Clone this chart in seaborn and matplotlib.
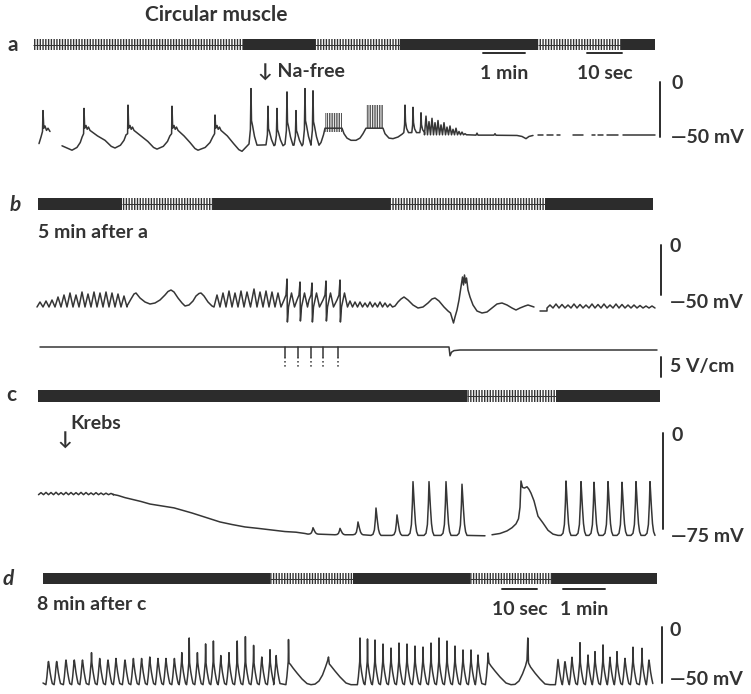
import numpy as np
import pandas as pd
import matplotlib
matplotlib.use("Agg")
import matplotlib.pyplot as plt
import seaborn as sns

sns.set_theme(style="white")
plt.rcParams["font.family"] = ["Lato", "DejaVu Sans"]
plt.rcParams["hatch.linewidth"] = 1.0

W, H = 751, 694
INK = "#2c2c2c"
TRACE = "#363636"
TXT = "#333333"

# =========================
# DATA  (t = position along the chart paper, v = potential in mV)
# =========================

# time-marker strips: stretch edges, True = fast paper speed (ticked marker)
a_mark_edges = [33, 243, 315, 400, 538, 621, 655]
a_mark_fast = [True, False, True, False, True, False]
b_mark_edges = [38, 122, 213, 390, 545, 653]
b_mark_fast = [False, True, False, True, False]
c_mark_edges = [38, 467, 556, 660]
c_mark_fast = [False, True, False]
d_mark_edges = [43, 270, 353, 470, 552, 657]
d_mark_fast = [False, True, False, True, False]

# time calibration bars
a_timebar_t0 = [483, 587]
a_timebar_t1 = [525, 622]
a_timebar_lbl = ["1 min", "10 sec"]
d_timebar_t0 = [502, 563]
d_timebar_t1 = [537, 605]
d_timebar_lbl = ["10 sec", "1 min"]

# --- a: slow waves, then Na-free
a_first_t = [39, 41, 42.5, 43, 43.8, 45, 46.5, 48, 50]
a_first_v = [-56, -50, -45, -26, -42, -40, -44, -42, -45]
a_trough_t = [72, 115, 157, 198, 242]
a_trough_v = [-62, -60, -61, -62, -63]
a_spike_t = [84, 128, 172, 215]
a_spike_v = [-24, -21, -22, -30]
a_na_t = [251, 268, 277, 287, 296, 305, 313]
a_na_v = [-6, -22, -24, -9, -26, -6, -8]
a_na_base = -59
a_mid_t = [321, 323.5, 325, 342, 344, 347, 351, 356, 360, 363, 366, 383, 385, 389, 393, 398, 402]
a_mid_v = [-55, -48, -42, -42, -47, -51, -53, -53, -51, -47, -42, -42, -47, -51, -51.5, -50, -47.5]
a_burst_t0 = [325, 366]
a_burst_t1 = [342, 383]
a_burst_lo = [-45, -42]
a_burst_hi = [-28, -21]
a_late_t = [405, 413, 421]
a_late_v = [-21, -23, -28]
a_osc_t = [426, 429, 432, 435, 438, 441, 444, 447, 450, 453, 456, 459, 462, 465]
a_osc_v = [-31, -36, -33, -37, -35, -39, -37, -41, -40, -43, -42, -45, -45.5, -47]
a_tail_t = [468, 476, 477, 478, 490, 494, 495, 496, 505, 517, 522, 526, 529, 533]
a_tail_v = [-48, -48.3, -46.5, -48.3, -48.3, -48.3, -47, -48.4, -48.5, -48.6, -49.5, -51.5, -49.5, -48.6]
a_dash_t0 = [538, 547, 557, 573, 592, 598, 607, 623]
a_dash_t1 = [543, 553, 560, 583, 595, 603, 618, 655]
a_dash_v = -48.5
a_scale = [0, -50]

# --- b: 5 min after a
b_osc1_t = [40, 46, 52, 58, 64, 70, 76, 82, 88, 94, 100, 106, 112, 118, 124]
b_osc1_v = [-57, -56, -55, -52, -50, -48, -50, -47, -49, -47, -48, -47, -48, -49, -51]
b_wave1_t = [127, 131, 134, 136, 140, 145, 150, 155, 160, 165, 168, 171, 174, 178, 182,
             185, 189, 193, 196, 199, 201, 204, 208, 212]
b_wave1_v = [-61, -54, -49, -48, -53, -57, -59, -58, -55, -50, -46.5, -45, -47, -53, -58,
             -61, -60, -56, -51, -48.5, -48, -51, -57, -61]
b_osc2_t = [217, 223, 229, 235, 241, 247, 254, 260, 266, 272, 278]
b_osc2_v = [-50, -48, -46, -48, -46, -47, -44, -47, -46, -47, -48]
b_stim_t = [287, 300, 312, 326, 340]
b_stim_hi = [-34, -37, -38, -36, -35]
b_stim_lo = [-77, -76, -77, -76, -77]
b_osc3_t = [350, 355, 360, 365, 370, 375, 380, 385, 390]
b_osc3_v = [-56, -57, -57, -58, -57, -58, -57, -58, -59]
b_wave2_t = [395, 398, 401, 404, 408, 413, 418, 423, 428, 432,
             435, 439, 444, 448, 450.5, 452, 453.5, 455, 457, 459,
             461, 462.5, 463.5, 464.5, 465.5, 466.5, 468, 470, 473, 477,
             482, 487, 492, 497, 502, 507, 512, 516, 520, 525,
             528, 531, 534]
b_wave2_v = [-61, -57, -54, -52, -55, -60, -63, -62, -58, -54,
             -53, -56, -62, -66, -68, -73, -78, -72, -65, -55,
             -42, -32, -40, -30, -38, -33, -45, -52, -60, -66,
             -68, -67, -63, -59, -58, -60, -63, -65, -63, -61,
             -60, -61, -62]
b_flat_t = [540, 547]
b_flat_v = [-66, -66]
b_osc4_t = [550, 556, 562, 568, 574, 580, 586, 592, 598, 604, 610, 616, 622, 628, 634, 640, 646, 652]
b_osc4_v = [-60, -59, -59.5, -60, -59, -59.5, -60, -59, -59.5, -59, -60, -59, -59.5, -60, -60,
            -60.5, -61, -61]
b_scale = [0, -50]
# stimulus trace (V)
b_pulse_t = [285, 298, 311, 323, 338]
b_pulse_depth = [-2.5, -5]
b_stimline_t = [40, 449, 450, 451.5, 454, 460, 657]
b_stimline_v = [0, 0, -2.2, -1.3, -0.9, -0.75, -0.75]
b_volt_scale = [-2.5, -7.5]

# --- c: back to Krebs
c_ripple_t = [41, 46, 51, 56, 61, 66, 71, 76, 81, 86, 91, 96, 101, 106, 111]
c_ripple_v = [-46.6, -46.4, -46.5, -46.3, -46.6, -46.4, -46.5, -46.6, -46.4, -46.5,
              -46.8, -46.6, -46.9, -47.0, -47.2]
c_decline_t = [113, 118, 125, 133, 141, 150, 158, 166, 174, 183, 192, 200, 210, 220, 232,
               245, 258, 272, 285, 296, 305]
c_decline_v = [-48, -48.8, -50.5, -52, -53.5, -55.5, -56.5, -57.5, -58.5, -60.5, -62.5, -64.5,
               -67, -69.5, -71.5, -73.4, -74.5, -75.8, -77, -77.5, -78.5]
c_spike_t = [313, 340, 358, 376, 397, 413, 429, 446, 462]
c_spike_v = [-74, -74.5, -69.5, -58.6, -64, -38, -38, -38, -40]
c_spike_base = [-79, -79.5, -79.5, -80, -80, -80, -80, -80, -80]
c_late_t = [492, 500, 507, 512, 516, 518.5, 520, 521, 522.5, 524.5, 527, 529, 531, 534, 538,
            543, 548, 553, 558]
c_late_v = [-79.5, -78.5, -76.5, -74, -71, -67, -58, -37.5, -42.5, -43, -42, -44, -47, -53, -65,
            -70.3, -76, -79, -80]
c_late_spike_t = [566, 581, 594, 608, 622, 636, 650]
c_late_spike_v = [-37.5, -38, -38.5, -38, -38.5, -38, -38]
c_scale = [0, -75]

# --- d: 8 min after c
d_seg1_t = [48.5, 56.7, 66, 74.3, 82.5, 91.5, 99.7, 108, 116, 125, 133.4, 141.6, 149.8, 158, 166,
            174.4, 181.8, 189.2, 197.4, 205.6, 213.4, 220.8, 229, 237.2, 245.4, 253.6, 261.8,
            270, 276.2, 288.5]
d_seg1_v = [-30.8, -30.8, -29.5, -29.5, -29.5, -22.9, -28.1, -29.5, -28.1, -29.5, -28.1, -28.1,
            -26.8, -28.1, -28.1, -28.1, -22.9, -9.8, -22.9, -15.1, -12.5, -25.5, -22.9, -12.5,
            -8.6, -16.4, -26.8, -20.3, -25.5, -11.2]
d_slow1_t = [289, 290.5, 293, 297, 302, 307, 311, 315, 319, 322.5, 325.5, 327.5, 328.5, 329.3,
             331, 335, 340, 346, 351, 355]
d_slow1_v = [-32.1, -33.5, -36.6, -41.1, -46.4, -50.5, -51.5, -51, -48.2, -42.9, -35.7, -30.4,
             -26.8, -33, -34.8, -39.3, -44.6, -50, -51.5, -51.5]
d_seg2_t = [360, 367.5, 375, 383, 391, 399, 407, 415, 423, 431, 439, 447, 455, 463, 471, 478, 488]
d_seg2_v = [-9.8, -10.7, -11.6, -15.2, -18.8, -14.3, -15.2, -17, -17.9, -14.3, -9.8, -12.5, -17,
            -20.5, -20.5, -25, -23.2]
d_slow2_t = [489, 491, 495, 500, 506, 511, 515, 519, 522.5, 525.5, 527, 527.8, 528.5, 530.5,
             535, 540, 545, 550, 553]
d_slow2_v = [-32.1, -34.8, -39.3, -44.6, -50, -51.5, -51.2, -48.2, -41.9, -34.8, -29.5, -9.8,
             -32.1, -35.7, -41.1, -46.4, -50.9, -51.5, -51.5]
d_seg3_t = [558, 565, 572, 580, 588, 595, 603, 610, 617, 625, 633, 642, 649]
d_seg3_v = [-29, -31, -27, -14, -25, -22, -16, -27, -22, -28, -18, -19, -29.5]
d_scale = [0, -50]


# =========================
# WAVEFORM SHAPES
# =========================
def spike(t, top, base, rise, fall):
    pts = [(t + dt, base + f * (top - base)) for dt, f in rise]
    pts.append((t, top))
    pts += [(t + dt, base + f * (top - base)) for dt, f in fall]
    return pts


def zigzag(ts, vs, base):
    pts = []
    for i, (t, v) in enumerate(zip(ts, vs)):
        half = (t - ts[i - 1]) / 2 if i > 0 else (ts[1] - ts[0]) / 2
        pts += [(t - half, base), (t, v)]
    pts.append((ts[-1] + (ts[-1] - ts[-2]) / 2, base))
    return pts


def d_cycle(t, top, base=-51.5, sh=-31, tail=True):
    s = sh if top > sh + 1 else top - 1
    pts = [(t - 2.6, base), (t - 1.6, base + 0.35 * (s - base)),
           (t - 0.8, base + 0.75 * (s - base)), (t - 0.3, s), (t, top)]
    if tail:
        pts += [(t + 0.4, s - 1), (t + 1.6, base + 0.55 * (s - base)),
                (t + 2.8, base + 0.25 * (s - base)), (t + 3.8, base + 0.05 * (s - base))]
    return pts


C_RISE = [(-5, 0.0), (-3, 0.04), (-1.6, 0.2), (-0.6, 0.6)]
C_FALL = [(0.6, 0.8), (1.5, 0.5), (2.5, 0.22), (3.6, 0.07), (5, 0.0)]
NA_RISE = [(-2, 0.05), (-0.6, 0.3)]
NA_FALL = [(0.5, 0.45), (1.5, 0.37), (3.5, 0.18), (6, 0.03)]
LATE_RISE = [(-1.2, 0.0), (-0.4, 0.3)]
LATE_FALL = [(0.5, 0.4), (1.6, 0.15), (3.5, 0.0)]


def to_frame(segments):
    rows = []
    for k, seg in enumerate(segments):
        for t, v in seg:
            rows.append((k, t, v))
    return pd.DataFrame(rows, columns=["seg", "t", "v"])


def draw_trace(ax, segments, lw=1.1, ls="-"):
    df = to_frame(segments)
    sns.lineplot(data=df, x="t", y="v", units="seg", estimator=None, sort=False,
                 color=TRACE, linewidth=lw, linestyle=ls, ax=ax, legend=False)
    ax.set_xlim(0, W)
    ax.axis("off")


# ---- assemble trace a
a_main = [(62, -58)]
for i in range(len(a_spike_t)):
    tr, vr = a_trough_t[i], a_trough_v[i]
    ts, top = a_spike_t[i], a_spike_v[i]
    nt, nv = a_trough_t[i + 1], a_trough_v[i + 1]
    d = ts - 1 - tr
    a_main += [(tr, vr), (tr + 0.45 * d, vr + 2.5), (tr + 0.75 * d, vr + 7), (tr + 0.92 * d, vr + 12),
               (ts - 0.4, -47), (ts, top), (ts + 0.7, -42), (ts + 2, -39.5), (ts + 3.2, -43),
               (ts + 4.5, -41), (ts + 6, -44)]
    e = nt - (ts + 6)
    a_main += [(ts + 6 + 0.3 * e, -49), (ts + 6 + 0.6 * e, nv + 7), (ts + 6 + 0.85 * e, nv + 1.5)]
a_main.append((a_trough_t[-1], a_trough_v[-1]))
for t, v in zip(a_na_t, a_na_v):
    a_main += spike(t, v, a_na_base, NA_RISE, NA_FALL)
a_main += list(zip(a_mid_t, a_mid_v))
for t, v in zip(a_late_t, a_late_v):
    a_main += spike(t, v, -46, LATE_RISE, LATE_FALL)
a_main += zigzag(a_osc_t, a_osc_v, -48)
a_main += list(zip(a_tail_t, a_tail_v))
a_segments = [list(zip(a_first_t, a_first_v)), a_main]
a_segments += [[(t0, a_dash_v), (t1, a_dash_v)] for t0, t1 in zip(a_dash_t0, a_dash_t1)]

# ---- assemble trace b
b_main = zigzag(b_osc1_t, b_osc1_v, -62)
b_main += list(zip(b_wave1_t, b_wave1_v))
b_main += zigzag(b_osc2_t, b_osc2_v, -62)
for t, hi, lo in zip(b_stim_t, b_stim_hi, b_stim_lo):
    b_main += [(t - 3, -55), (t - 1, -50), (t, hi), (t + 0.4, lo), (t + 1.5, -62),
               (t + 4.5, -48), (t + 7.5, -62)]
b_main += zigzag(b_osc3_t, b_osc3_v, -62)
b_main += list(zip(b_wave2_t, b_wave2_v))
b_end = list(zip(b_flat_t, b_flat_v)) + zigzag(b_osc4_t, b_osc4_v, -63)
b_segments = [b_main, b_end]

# ---- assemble trace c
c_main = zigzag(c_ripple_t, c_ripple_v, -48.2)
c_main += list(zip(c_decline_t, c_decline_v))
for t, v, base in zip(c_spike_t, c_spike_v, c_spike_base):
    c_main += spike(t, v, base, C_RISE, C_FALL)
c_main.append((485, -80.3))
c_end = list(zip(c_late_t, c_late_v))
for t, v in zip(c_late_spike_t, c_late_spike_v):
    c_end += spike(t, v, -80, C_RISE, C_FALL)
c_segments = [c_main, c_end]

# ---- assemble trace d
d_main = [(43, -50)]
for i, (t, v) in enumerate(zip(d_seg1_t, d_seg1_v)):
    d_main += d_cycle(t, v, tail=i < len(d_seg1_t) - 1)
d_main += list(zip(d_slow1_t, d_slow1_v))
for i, (t, v) in enumerate(zip(d_seg2_t, d_seg2_v)):
    d_main += d_cycle(t, v, tail=i < len(d_seg2_t) - 1)
d_main += list(zip(d_slow2_t, d_slow2_v))
for t, v in zip(d_seg3_t, d_seg3_v):
    d_main += d_cycle(t, v)
d_segments = [d_main]


# =========================
# FIGURE
# =========================
fig = plt.figure(figsize=(W / 100, H / 100), dpi=100)
fig.patch.set_facecolor("white")
FS = 14


def band_axes(top, bottom, ylo, yhi):
    ax = fig.add_axes([0, 1 - bottom / H, 1, (bottom - top) / H])
    ax.set_xlim(0, W)
    ax.set_ylim(ylo, yhi)
    ax.axis("off")
    ax.patch.set_alpha(0)
    return ax


def trace_axes(top, bottom, zero_px, px_per_unit):
    return band_axes(top, bottom, -(bottom - zero_px) / px_per_unit, (zero_px - top) / px_per_unit)


def draw_marker(top, bottom, edges, fast):
    ax = band_axes(top, bottom, 0, 1)
    for x0, x1, f in zip(edges[:-1], edges[1:], fast):
        if f:
            ax.barh(0.5, x1 - x0, left=x0, height=1.0, color="white", edgecolor="#333333",
                    hatch="||||||", linewidth=0)
            ax.hlines(0.5, x0, x1, color="#333333", lw=0.7)
        else:
            ax.barh(0.5, x1 - x0, left=x0, height=0.92, color=INK, linewidth=0)
    return ax


def time_bars(ax, t0s, t1s, labels, bar_v, lbl_v):
    for t0, t1, lbl in zip(t0s, t1s, labels):
        ax.plot([t0, t1], [bar_v, bar_v], color=INK, lw=1.4)
        ax.text((t0 + t1) / 2, lbl_v, lbl, ha="center", va="center", fontsize=FS,
                fontweight="bold", color=TXT)


def volt_scale(ax, x, vals, top_lbl, bot_lbl, top_v, bot_v, lx):
    ax.plot([x, x], vals, color=INK, lw=1.4)
    ax.text(lx, top_v, top_lbl, color=TXT, fontsize=FS, fontweight="bold", va="center", ha="left")
    ax.text(lx, bot_v, bot_lbl, color=TXT, fontsize=FS, fontweight="bold", va="center", ha="left")


# title + panel letters
fig.text(216 / W, 1 - 15 / H, "Circular muscle", ha="center", va="center", fontsize=15,
         fontweight="bold", color=TXT)
fig.text(13 / W, 1 - 45 / H, "a", ha="center", va="center", fontsize=15, fontweight="bold", color=TXT)
fig.text(15 / W, 1 - 205 / H, "b", ha="center", va="center", fontsize=15, fontweight="bold",
         fontstyle="italic", color=TXT)
fig.text(11 / W, 1 - 395 / H, "c", ha="center", va="center", fontsize=15, fontweight="bold", color=TXT)
fig.text(8 / W, 1 - 579 / H, "d", ha="center", va="center", fontsize=15, fontweight="bold",
         fontstyle="italic", color=TXT)

# ---- panel a
draw_marker(39, 50, a_mark_edges, a_mark_fast)
ax_a = trace_axes(50, 170, 82, 1.1)
draw_trace(ax_a, a_segments)
for t0, t1, lo, hi in zip(a_burst_t0, a_burst_t1, a_burst_lo, a_burst_hi):
    ax_a.fill_between([t0, t1], lo, hi, facecolor="none", edgecolor="#555555",
                      hatch="|||||||", linewidth=0)
ax_a.set_ylim(-80, 29.1)
time_bars(ax_a, a_timebar_t0, a_timebar_t1, a_timebar_lbl, 26.4, 7.3)
ax_a.text(258, 10, "\u2193 Na-free", ha="left", va="center", fontsize=FS, fontweight="bold",
          color=TXT)
volt_scale(ax_a, 660, a_scale, "0", "\u201450 mV", -1.5, -50, 671)

# ---- panel b
draw_marker(198, 210, b_mark_edges, b_mark_fast)
ax_b = trace_axes(215, 330, 245, 1.0)
draw_trace(ax_b, b_segments)
ax_b.set_ylim(-85, 30)
ax_b.text(38, 13, "5 min after a", ha="left", va="center", fontsize=FS, fontweight="bold", color=TXT)
volt_scale(ax_b, 661, b_scale, "0", "\u201450 mV", -1, -57, 670)

ax_s = trace_axes(335, 385, 347, 4.0)
stim_segments = [list(zip(b_stimline_t, b_stimline_v))]
stim_segments += [[(t, 0), (t, b_pulse_depth[0])] for t in b_pulse_t]
draw_trace(ax_s, stim_segments)
draw_trace(ax_s, [[(t, b_pulse_depth[0]), (t, b_pulse_depth[1])] for t in b_pulse_t], ls=":")
ax_s.set_ylim(-9.5, 3)
ax_s.plot([661, 661], b_volt_scale, color=INK, lw=1.4)
ax_s.text(670, -4.8, "5 V/cm", ha="left", va="center", fontsize=FS, fontweight="bold", color=TXT)

# ---- panel c
draw_marker(390, 402, c_mark_edges, c_mark_fast)
ax_c = trace_axes(405, 548, 433, 1.28)
draw_trace(ax_c, c_segments)
ax_c.set_ylim(-(548 - 433) / 1.28, (433 - 405) / 1.28)
ax_c.text(70, 7.8, "Krebs", ha="left", va="center", fontsize=FS, fontweight="bold", color=TXT)
ax_c.text(65, -5.5, "\u2193", ha="center", va="center", fontsize=FS, fontweight="bold", color=TXT)
volt_scale(ax_c, 663, c_scale, "0", "\u201475 mV", -1.6, -81, 671)

# ---- panel d
draw_marker(573, 584, d_mark_edges, d_mark_fast)
ax_d = trace_axes(585, 694, 627, 1.12)
draw_trace(ax_d, d_segments)
ax_d.set_ylim(-(694 - 627) / 1.12, (627 - 585) / 1.12)
time_bars(ax_d, d_timebar_t0, d_timebar_t1, d_timebar_lbl, 33.9, 16)
ax_d.text(37, 20.5, "8 min after c", ha="left", va="center", fontsize=FS, fontweight="bold", color=TXT)
volt_scale(ax_d, 662, d_scale, "0", "\u201450 mV", -2.7, -47, 670)

fig.savefig("out.png", dpi=100, facecolor="white")
